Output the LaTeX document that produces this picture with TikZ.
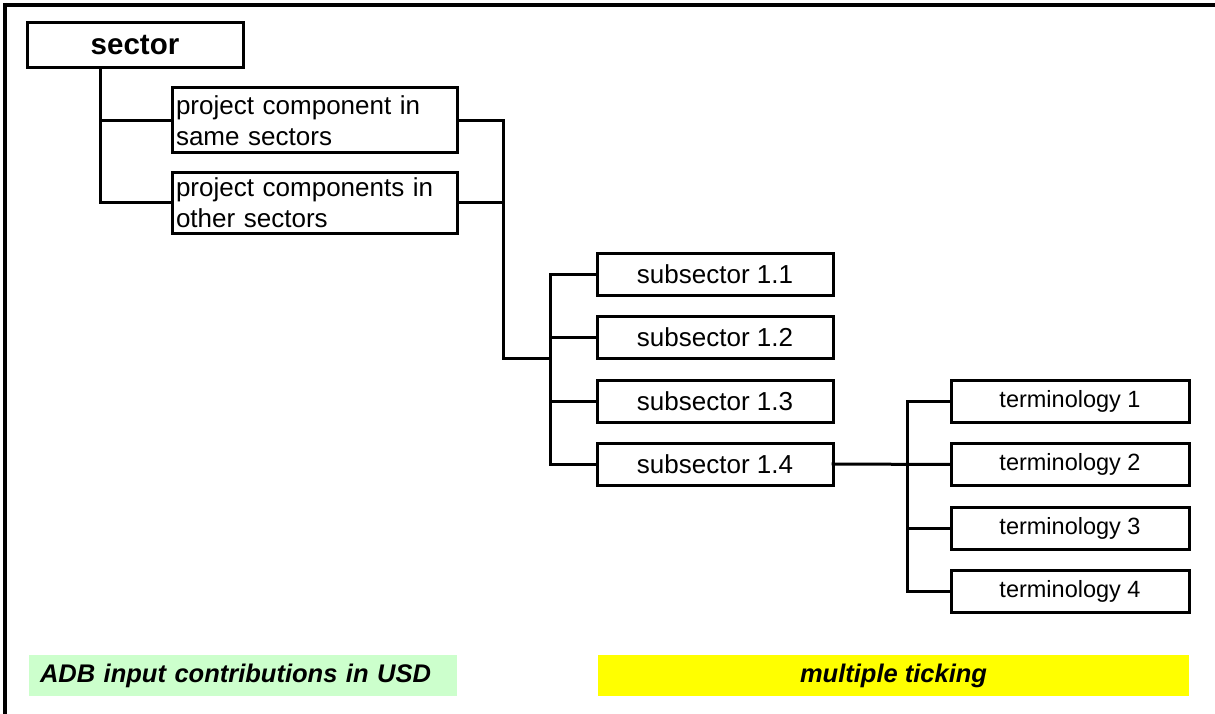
\documentclass[tikz,border=0pt]{standalone}
\usepackage{fontspec}
\setmainfont{Liberation Sans}
\definecolor{lightgreen}{HTML}{CCFFCC}
\definecolor{brightyellow}{HTML}{FFFF00}
\begin{document}
\begin{tikzpicture}[x=1pt,y=-1pt,
  box/.style={draw=black,line width=3pt,fill=white,inner sep=0pt,outer sep=0pt,font=\fontsize{26}{31}\selectfont},
  subbox/.style={box,minimum width=236pt,minimum height=42pt},
  termbox/.style={box,minimum width=238pt,minimum height=42pt,font=\fontsize{23.5}{28}\selectfont},
  conn/.style={line width=3pt,line cap=rect},
  legend/.style={inner sep=0pt,outer sep=0pt,minimum height=41pt,font=\fontsize{25.5}{30}\selectfont\bfseries\itshape}
]
\useasboundingbox (0,0) rectangle (1215,714);
% frame
\draw[line width=4pt] (3,5) -- (1215,5);
\draw[line width=4pt] (5,3) -- (5,714);
% nodes
\node[box,minimum width=216pt,minimum height=45pt,font=\fontsize{29.5}{34}\selectfont\bfseries] (sector) at (135,45.5) {sector};
\node[box,minimum width=285pt,minimum height=65pt,text width=277pt,align=left] (pc1) at (314.5,120.5) {project component in\\same sectors};
\node[box,minimum width=285pt,minimum height=60pt,text width=277pt,align=left] (pc2) at (314.5,203) {project components in\\other sectors};
\node[subbox] (s1) at (715,274.5) {subsector 1.1};
\node[subbox] (s2) at (715,337.5) {subsector 1.2};
\node[subbox] (s3) at (715,401) {subsector 1.3};
\node[subbox] (s4) at (715,464) {subsector 1.4};
\node[termbox] (t1) at (1070,401) {terminology 1};
\node[termbox] (t2) at (1070,464.5) {terminology 2};
\node[termbox] (t3) at (1070,528) {terminology 3};
\node[termbox] (t4) at (1070,591) {terminology 4};
\node[legend,fill=lightgreen,minimum width=428pt,text width=406pt,align=left] (adb) at (243,675.5) {ADB input contributions in USD};
\node[legend,fill=brightyellow,minimum width=591pt] (tick) at (893.5,675.5) {multiple ticking};
% connector coordinates
\coordinate (v0) at (100,0);
\coordinate (v1) at (503,0);
\coordinate (v2) at (550,0);
\coordinate (v3) at (907,0);
% connectors
\draw[conn] (v0 |- sector.south) |- (pc2.west);
\draw[conn] (v0 |- pc1.west) -- (pc1.west);
\draw[conn] (pc1.east) -| (v1 |- s2.south);
\draw[conn] (pc2.east) -- (v1 |- pc2.east);
\draw[conn] (v1 |- s2.south) -- (v2 |- s2.south);
\draw[conn] (s1.west) -| (v2 |- s4.west) -- (s4.west);
\draw[conn] (v2 |- s2.west) -- (s2.west);
\draw[conn] (v2 |- s3.west) -- (s3.west);
\draw[conn] (s4.east) -- (t2.west);
\draw[conn] (t1.west) -| (v3 |- t4.west) -- (t4.west);
\draw[conn] (v3 |- t3.west) -- (t3.west);
\end{tikzpicture}
\end{document}
